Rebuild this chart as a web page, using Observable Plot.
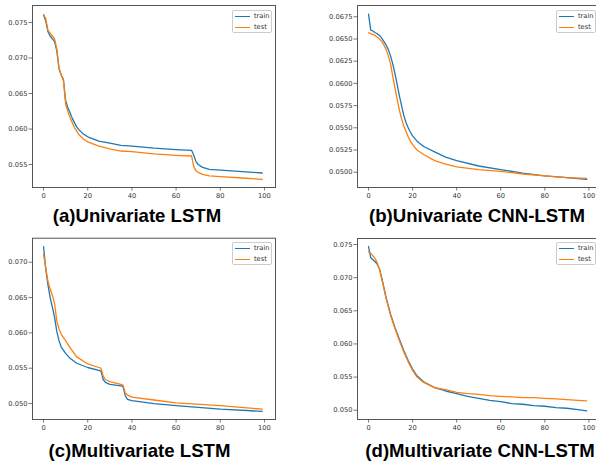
<!DOCTYPE html>
<html>
<head>
<meta charset="utf-8">
<script src="https://cdn.jsdelivr.net/npm/d3@7"></script>
<script src="https://cdn.jsdelivr.net/npm/@observablehq/plot@0.6"></script>
<style>
  html, body { margin: 0; padding: 0; background: #fff; }
  #root { position: relative; width: 596px; height: 464px; overflow: hidden; background: #fff; }
  .panel { position: absolute; }
  .title { position: absolute; font-family: "Liberation Sans", Arial, sans-serif; font-weight: bold; font-size: 18.6px; line-height: 18.6px; white-space: nowrap; transform: translateX(-50%); color: #000; }
  .legend { position: absolute; width: 38px; height: 21px; border: 1px solid #ccc; border-radius: 2px; background: rgba(255,255,255,0.9); font-family: "DejaVu Sans", sans-serif; font-size: 6.7px; color: #333; }
  .legend .row { position: absolute; left: 1px; height: 8px; }
  .legend .sw { position: absolute; left: 1px; top: 4px; width: 15px; height: 0; border-top: 1.3px solid; }
  .legend .lb { position: absolute; left: 20px; top: 0; line-height: 8px; }
</style>
</head>
<body>
<div id="root"></div>
<script>
// ---------- data ----------
const seriesNames = ["train", "test"];
const seriesColors = ["#1f77b4", "#ff7f0e"];
const xTicks = [0, 20, 40, 60, 80, 100];

// (a) Univariate LSTM
const epochsA = [0,1,2,3,4,5,6,7,8,9,10,11,12,13,14,15,16,17,18,20,25,30,35,40,50,60,67,68,69,70,72,75,80,90,99];
const trainA = [0.0761,0.0752,0.0737,0.0731,0.0727,0.0723,0.0710,0.0685,0.0676,0.0670,0.0640,0.0630,0.0623,0.0615,0.0609,0.0603,0.0599,0.0596,0.0593,0.0589,0.0583,0.0580,0.0577,0.0576,0.0573,0.0571,0.0570,0.0563,0.0554,0.0550,0.0546,0.0543,0.0542,0.0540,0.0538];
const testA = [0.0761,0.0756,0.0739,0.0735,0.0731,0.0727,0.0713,0.0686,0.0676,0.0668,0.0635,0.0625,0.0616,0.0609,0.0602,0.0597,0.0592,0.0589,0.0586,0.0582,0.0576,0.0572,0.0569,0.0568,0.0565,0.0563,0.0562,0.0547,0.0541,0.0539,0.0536,0.0534,0.0533,0.0531,0.0529];
const yTicksA = [0.055, 0.060, 0.065, 0.070, 0.075];

// (b) Univariate CNN-LSTM
const epochsB = [0,1,2,3,4,5,6,7,8,9,10,11,12,13,14,15,16,17,18,19,20,22,25,30,35,40,50,60,70,80,90,99];
const trainB = [0.0678,0.0660,0.0659,0.0657,0.0656,0.0654,0.0651,0.0647,0.0643,0.0638,0.0631,0.0622,0.0611,0.0599,0.0586,0.0575,0.0564,0.0556,0.0550,0.0545,0.0541,0.0535,0.0529,0.0523,0.0517,0.0513,0.0507,0.0503,0.0499,0.0496,0.0494,0.0492];
const testB = [0.0657,0.0656,0.0655,0.0654,0.0652,0.0650,0.0647,0.0643,0.0638,0.0631,0.0622,0.0608,0.0595,0.0582,0.0570,0.0560,0.0552,0.0546,0.0540,0.0535,0.0531,0.0525,0.0520,0.0513,0.0509,0.0506,0.0503,0.0501,0.0498,0.0496,0.0494,0.0493];
const yTicksB = [0.0500, 0.0525, 0.0550, 0.0575, 0.0600, 0.0625, 0.0650, 0.0675];

// (c) Multivariate LSTM
const epochsC = [0,1,2,3,4,5,6,7,8,10,12,15,20,25,26,27,28,30,35,36,37,38,40,50,60,80,99];
const trainC = [0.0722,0.0690,0.0668,0.0650,0.0636,0.0622,0.0602,0.0589,0.0580,0.0571,0.0564,0.0557,0.0551,0.0547,0.0546,0.0534,0.0530,0.0527,0.0525,0.0524,0.0511,0.0506,0.0504,0.0500,0.0497,0.0492,0.0489];
const testC = [0.0711,0.0692,0.0673,0.0662,0.0653,0.0641,0.0617,0.0606,0.0598,0.0589,0.0579,0.0566,0.0556,0.0551,0.0550,0.0539,0.0534,0.0531,0.0527,0.0526,0.0515,0.0512,0.0509,0.0505,0.0501,0.0497,0.0492];
const yTicksC = [0.050, 0.055, 0.060, 0.065, 0.070];

// (d) Multivariate CNN-LSTM
const epochsD = [0,1,2,3,4,5,6,7,8,10,12,14,16,18,20,22,25,30,35,40,45,50,55,60,65,70,75,80,85,90,95,99];
const trainD = [0.0747,0.0730,0.0727,0.0724,0.0720,0.0713,0.0700,0.0685,0.0670,0.0645,0.0625,0.0607,0.0590,0.0575,0.0562,0.0552,0.0543,0.0534,0.0529,0.0525,0.0521,0.0518,0.0515,0.0513,0.0510,0.0509,0.0507,0.0506,0.0504,0.0503,0.0501,0.0499];
const testD = [0.0739,0.0737,0.0733,0.0729,0.0722,0.0712,0.0698,0.0683,0.0668,0.0643,0.0623,0.0605,0.0588,0.0573,0.0560,0.0550,0.0542,0.0534,0.0531,0.0527,0.0525,0.0524,0.0522,0.0521,0.0520,0.0519,0.0519,0.0518,0.0517,0.0516,0.0515,0.0514];
const yTicksD = [0.050, 0.055, 0.060, 0.065, 0.070, 0.075];

const titles = ["(a)Univariate LSTM", "(b)Univariate CNN-LSTM", "(c)Multivariate LSTM", "(d)Multivariate CNN-LSTM"];

// ---------- layout ----------
const panels = [
  {epochs: epochsA, train: trainA, test: testA, yTicks: yTicksA, fmt: ".3f", yDomain: [0.05176, 0.0774],
   left: 0, top: 0, width: 296, marginLeft: 32, marginRight: 21, marginTop: 5,
   title: titles[0], titleX: 137, titleY: 207, legendX: 232, legendY: 10},
  {epochs: epochsB, train: trainB, test: testB, yTicks: yTicksB, fmt: ".4f", yDomain: [0.04828, 0.06877],
   left: 296, top: 0, width: 320, marginLeft: 61, marginRight: 16.6, marginTop: 5,
   title: titles[1], titleX: 477, titleY: 207, legendX: 556, legendY: 10},
  {epochs: epochsC, train: trainC, test: testC, yTicks: yTicksC, fmt: ".3f", yDomain: [0.04774, 0.0734],
   left: 0, top: 232, width: 296, marginLeft: 32, marginRight: 21, marginTop: 5.7,
   title: titles[2], titleX: 139.5, titleY: 442, legendX: 232, legendY: 242},
  {epochs: epochsD, train: trainD, test: testD, yTicks: yTicksD, fmt: ".3f", yDomain: [0.0486, 0.07591],
   left: 296, top: 232, width: 320, marginLeft: 61, marginRight: 16.6, marginTop: 6,
   title: titles[3], titleX: 480, titleY: 442, legendX: 556, legendY: 242}
];

const root = document.getElementById("root");

for (const p of panels) {
  const rows = [];
  p.epochs.forEach((e, i) => {
    rows.push({epoch: e, loss: p.train[i], series: seriesNames[0]});
  });
  p.epochs.forEach((e, i) => {
    rows.push({epoch: e, loss: p.test[i], series: seriesNames[1]});
  });

  const chart = Plot.plot({
    width: p.width,
    height: 200,
    marginLeft: p.marginLeft,
    marginRight: p.marginRight,
    marginTop: p.marginTop,
    marginBottom: 13,
    style: {fontFamily: "DejaVu Sans, sans-serif", fontSize: "6.7px", color: "#333", background: "transparent", overflow: "visible"},
    x: {domain: [-5, 105]},
    y: {domain: p.yDomain},
    color: {domain: seriesNames, range: seriesColors},
    marks: [
      Plot.axisX({ticks: xTicks, tickSize: 3.5, tickPadding: 2.2, label: null, stroke: "#555", strokeWidth: 0.8}),
      Plot.axisY({ticks: p.yTicks, tickFormat: d3.format(p.fmt), tickSize: 3.5, tickPadding: 1.5, label: null, stroke: "#555", strokeWidth: 0.8}),
      Plot.line(rows, {x: "epoch", y: "loss", stroke: "series", z: "series", strokeWidth: 1.3}),
      Plot.frame({stroke: "#555", strokeWidth: 1})
    ]
  });
  chart.classList.add("panel");
  chart.style.left = p.left + "px";
  chart.style.top = p.top + "px";
  root.appendChild(chart);

  const t = document.createElement("div");
  t.className = "title";
  t.textContent = p.title;
  t.style.left = p.titleX + "px";
  t.style.top = p.titleY + "px";
  root.appendChild(t);

  const lg = document.createElement("div");
  lg.className = "legend";
  lg.style.left = p.legendX + "px";
  lg.style.top = p.legendY + "px";
  seriesNames.forEach((name, i) => {
    const r = document.createElement("div");
    r.className = "row";
    r.style.top = (1 + i * 10.5) + "px";
    const sw = document.createElement("div");
    sw.className = "sw";
    sw.style.borderTopColor = seriesColors[i];
    const lb = document.createElement("div");
    lb.className = "lb";
    lb.textContent = name;
    r.appendChild(sw); r.appendChild(lb);
    lg.appendChild(r);
  });
  root.appendChild(lg);
}
</script>
</body>
</html>
